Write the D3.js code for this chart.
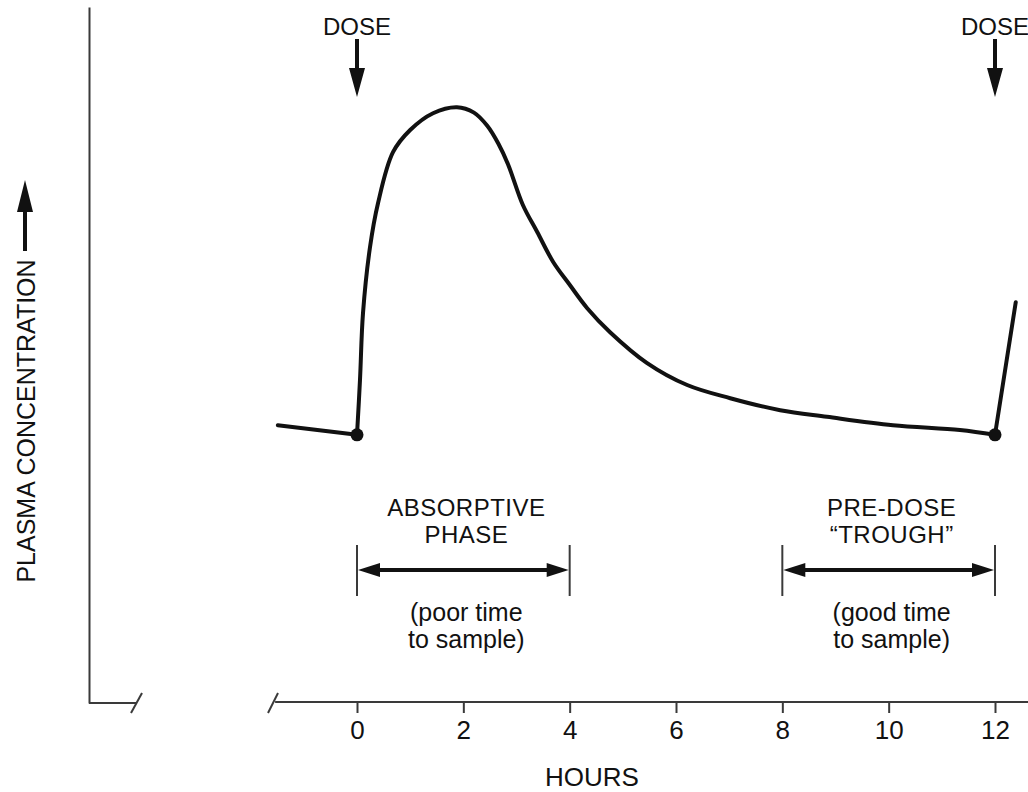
<!DOCTYPE html>
<html>
<head>
<meta charset="utf-8">
<script src="https://cdn.jsdelivr.net/npm/d3@7/dist/d3.min.js"></script>
<style>
  html, body { margin: 0; padding: 0; background: #fff; }
  svg { display: block; font-family: "Liberation Sans", Arial, Helvetica, sans-serif; }
</style>
</head>
<body>
<svg id="chart" width="1028" height="792"></svg>
<script>
// ---- data (hours, relative plasma concentration) ----
const xTicks = [0, 2, 4, 6, 8, 10, 12];
const xTickLabels = ["0", "2", "4", "6", "8", "10", "12"];
const doseTimes = [0, 12];
const preDose = [[-1.49, 46.3], [0, 44.7]];
const mainCurve = [
  [0, 44.7], [0.056, 53.8], [0.113, 65], [0.245, 76], [0.395, 83.3],
  [0.677, 91.8], [1.0, 95.5], [1.43, 98.3], [1.88, 99.3], [2.2, 98.4],
  [2.45, 96.2], [2.66, 93.2], [2.84, 89.8], [3.12, 83],
  [3.39, 78.5], [3.69, 73.5], [4.0, 69.7], [4.33, 65.8], [4.76, 61.8],
  [5.45, 56.7], [6.21, 53], [7.02, 50.8], [7.96, 48.8],
  [8.84, 47.7], [10.08, 46.3], [11.34, 45.5], [12, 44.7]
];
const nextDose = [[12, 44.7], [12.39, 66.8]];
const troughPoints = [[0, 44.7], [12, 44.7]];
const spanStarts = [0, 8];
const spanEnds = [4, 12];
const spanTitles = [["ABSORPTIVE", "PHASE"], ["PRE-DOSE", "\u201CTROUGH\u201D"]];
const spanNotes = [["(poor time", "to sample)"], ["(good time", "to sample)"]];
const xTitle = "HOURS";
const yTitle = "PLASMA CONCENTRATION";
const doseLabel = "DOSE";

// ---- layout ----
const W = 1028, H = 792;
const svg = d3.select("#chart");
const ink = "#111";
const axisInk = "#3a3a3a";

const x = d3.scaleLinear().domain([0, 12]).range([357, 995]);
const y = d3.scaleLinear().domain([0, 116]).range([703, 7]);

// ---- y axis (plain line) ----
const yAxis = d3.axisLeft(y).tickValues([]).tickSizeOuter(0);
const gy = svg.append("g").attr("transform", "translate(89,0)").call(yAxis);
gy.select(".domain").attr("stroke", axisInk).attr("stroke-width", 2);
// left stub of the broken x axis
svg.append("line").attr("x1", 89).attr("x2", 136).attr("y1", y(0)).attr("y2", y(0))
  .attr("stroke", axisInk).attr("stroke-width", 2);
svg.append("line").attr("x1", 131).attr("y1", y(0) + 10).attr("x2", 142).attr("y2", y(0) - 10)
  .attr("stroke", axisInk).attr("stroke-width", 2);

// ---- x axis ----
const xAxis = d3.axisBottom(x).tickValues(xTicks)
  .tickFormat((d, i) => xTickLabels[i]).tickSize(11).tickPadding(8).tickSizeOuter(0);
const gx = svg.append("g").attr("transform", `translate(0,${y(0) - 1})`).call(xAxis);
gx.select(".domain").attr("d", `M${x(-1.54)},0H${W}`).attr("stroke", axisInk).attr("stroke-width", 2);
gx.selectAll(".tick line").attr("stroke", axisInk).attr("stroke-width", 2);
gx.selectAll(".tick text").attr("fill", ink).attr("font-size", 26)
  .attr("font-family", "'Liberation Sans', Arial, sans-serif");
svg.append("line").attr("x1", 268).attr("y1", y(0) + 10).attr("x2", 278).attr("y2", y(0) - 10)
  .attr("stroke", axisInk).attr("stroke-width", 2);

svg.append("text").attr("x", 592).attr("y", 786).attr("text-anchor", "middle")
  .attr("font-size", 26).attr("fill", ink).text(xTitle);

// ---- y title with arrow ----
svg.append("text").attr("transform", "translate(35,421) rotate(-90)")
  .attr("text-anchor", "middle").attr("font-size", 25).attr("fill", ink).text(yTitle);
svg.append("path")
  .attr("d", "M23,251 V212 H17 L25,180 L33,212 H27 V251 Z")
  .attr("fill", ink);

// ---- curve ----
const line = d3.line().x(d => x(d[0])).y(d => y(d[1]));
const curve = d3.line().x(d => x(d[0])).y(d => y(d[1])).curve(d3.curveCatmullRom.alpha(0.5));
[preDose, nextDose].forEach(seg => {
  svg.append("path").attr("d", line(seg)).attr("fill", "none")
    .attr("stroke", ink).attr("stroke-width", 4).attr("stroke-linecap", "round");
});
svg.append("path").attr("d", curve(mainCurve)).attr("fill", "none")
  .attr("stroke", ink).attr("stroke-width", 4).attr("stroke-linejoin", "round");
svg.selectAll("circle.trough").data(troughPoints).join("circle")
  .attr("class", "trough").attr("cx", d => x(d[0])).attr("cy", d => y(d[1]))
  .attr("r", 6.5).attr("fill", ink);

// ---- dose arrows ----
doseTimes.forEach(t => {
  const cx = x(t);
  svg.append("text").attr("x", cx).attr("y", 35).attr("text-anchor", "middle")
    .attr("font-size", 24).attr("fill", ink).text(doseLabel);
  svg.append("path")
    .attr("d", `M${cx - 2},39 V68 H${cx - 8} L${cx},97 L${cx + 8},68 H${cx + 2} V39 Z`)
    .attr("fill", ink);
});

// ---- span annotations ----
const barTop = 545, barBot = 596, arrowY = 570;
spanStarts.forEach((s, i) => {
  const x0 = x(s), x1 = x(spanEnds[i]);
  const g = svg.append("g");
  [x0, x1].forEach(xx => g.append("line").attr("x1", xx).attr("x2", xx)
    .attr("y1", barTop).attr("y2", barBot).attr("stroke", axisInk).attr("stroke-width", 2));
  g.append("line").attr("x1", x0 + 12).attr("x2", x1 - 12).attr("y1", arrowY).attr("y2", arrowY)
    .attr("stroke", ink).attr("stroke-width", 4);
  g.append("path").attr("d", `M${x0 + 1},${arrowY} L${x0 + 23},${arrowY - 7} L${x0 + 23},${arrowY + 7} Z`).attr("fill", ink);
  g.append("path").attr("d", `M${x1 - 1},${arrowY} L${x1 - 23},${arrowY - 7} L${x1 - 23},${arrowY + 7} Z`).attr("fill", ink);
  const cx = (x0 + x1) / 2 + 3;
  spanTitles[i].forEach((t, j) => g.append("text").attr("x", cx).attr("y", 516 + j * 27)
    .attr("text-anchor", "middle").attr("font-size", 24).attr("letter-spacing", 0.5)
    .attr("fill", ink).text(t));
  spanNotes[i].forEach((t, j) => g.append("text").attr("x", cx).attr("y", 621 + j * 27)
    .attr("text-anchor", "middle").attr("font-size", 25)
    .attr("fill", ink).text(t));
});
</script>
</body>
</html>
